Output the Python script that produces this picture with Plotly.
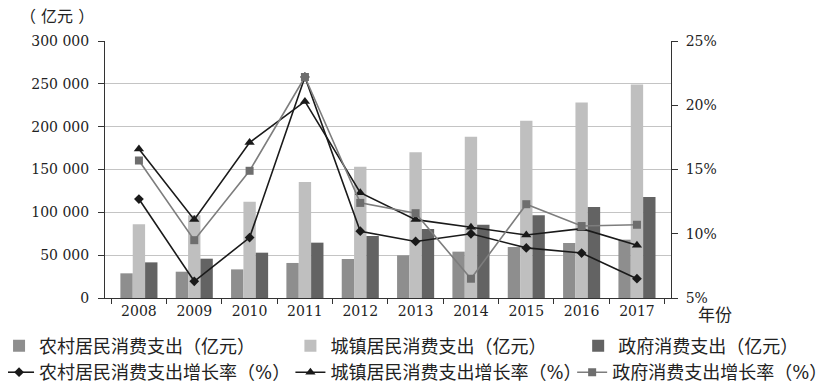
import plotly.graph_objects as go
from plotly.subplots import make_subplots

years = ["2008", "2009", "2010", "2011", "2012", "2013", "2014", "2015", "2016", "2017"]
rural_spend = [28800, 30700, 33400, 40900, 45500, 49800, 54100, 59500, 64200, 68100]
urban_spend = [86000, 96500, 112400, 135400, 153300, 170000, 188300, 207000, 228300, 249300]
gov_spend = [41600, 45900, 52900, 64600, 72400, 80500, 85600, 96500, 106200, 117900]
rural_growth = [12.7, 6.3, 9.7, 22.2, 10.2, 9.4, 10.0, 8.9, 8.5, 6.5]
urban_growth = [16.6, 11.1, 17.1, 20.3, 13.2, 11.1, 10.5, 9.9, 10.4, 9.1]
gov_growth = [15.7, 9.5, 14.9, 22.2, 12.4, 11.6, 6.5, 12.3, 10.6, 10.7]
left_ticks = [0, 50000, 100000, 150000, 200000, 250000, 300000]
left_ticktext = ["0", "50 000", "100 000", "150 000", "200 000", "250 000", "300 000"]
right_ticks = [5, 10, 15, 20, 25]
right_ticktext = ["5%", "10%", "15%", "20%", "25%"]

FONT = "DejaVu Serif, Noto Sans CJK SC, serif"
NUMFONT = dict(size=14, family="DejaVu Serif", color="#222222")

fig = make_subplots(specs=[[{"secondary_y": True}]])

fig.add_trace(go.Bar(x=years, y=rural_spend, name="农村居民消费支出（亿元）",
                     marker=dict(color="#8e8e8e", line=dict(width=0)), legend="legend"), secondary_y=False)
fig.add_trace(go.Bar(x=years, y=urban_spend, name="城镇居民消费支出（亿元）",
                     marker=dict(color="#bfbfbf", line=dict(width=0)), legend="legend2"), secondary_y=False)
fig.add_trace(go.Bar(x=years, y=gov_spend, name="政府消费支出（亿元）",
                     marker=dict(color="#636363", line=dict(width=0)), legend="legend3"), secondary_y=False)

fig.add_trace(go.Scatter(x=years, y=rural_growth, name="农村居民消费支出增长率（%）", mode="lines+markers",
                         line=dict(color="#1a1a1a", width=1.6),
                         marker=dict(symbol="diamond", size=7.5, color="#1a1a1a"), legend="legend4"), secondary_y=True)
fig.add_trace(go.Scatter(x=years, y=urban_growth, name="城镇居民消费支出增长率（%）", mode="lines+markers",
                         line=dict(color="#1a1a1a", width=1.6),
                         marker=dict(symbol="triangle-up", size=9, color="#1a1a1a"), legend="legend5"), secondary_y=True)
fig.add_trace(go.Scatter(x=years, y=gov_growth, name="政府消费支出增长率（%）", mode="lines+markers",
                         line=dict(color="#7d7d7d", width=1.6),
                         marker=dict(symbol="square", size=8, color="#6e6e6e"), legend="legend6"), secondary_y=True)

def leg(x, y):
    return dict(orientation="h", x=x, xanchor="left", y=y, yanchor="middle",
                font=dict(size=18, family=FONT, color="#222222"), bgcolor="rgba(0,0,0,0)")

fig.update_layout(
    width=829, height=382,
    margin=dict(l=97, r=130, t=33, b=92, autoexpand=False),
    paper_bgcolor="white", plot_bgcolor="white",
    font=dict(family=FONT, size=16, color="#222222"),
    barmode="group", bargap=0.33, bargroupgap=0,
    showlegend=True,
    legend=leg(-0.176, -0.187),
    legend2=leg(0.308, -0.187),
    legend3=leg(0.786, -0.187),
    legend4=leg(-0.176, -0.290),
    legend5=leg(0.308, -0.290),
    legend6=leg(0.776, -0.290),
)

fig.update_xaxes(type="category", showline=True, linecolor="#333333", linewidth=1,
                 ticks="outside", tickson="boundaries", ticklen=5, tickcolor="#333333",
                 showgrid=False, tickfont=NUMFONT)
fig.update_yaxes(range=[0, 300000], tickvals=left_ticks, ticktext=left_ticktext,
                 showline=True, linecolor="#333333", linewidth=1, ticks="outside", ticklen=6,
                 tickcolor="#333333", showgrid=True, gridcolor="#c4c4c4", gridwidth=1,
                 zeroline=False, tickfont=NUMFONT, ticklabelstandoff=6, secondary_y=False)
fig.update_yaxes(range=[5, 25], tickvals=right_ticks, ticktext=right_ticktext,
                 showline=True, linecolor="#333333", linewidth=1, ticks="outside", ticklen=6,
                 tickcolor="#333333", showgrid=False, zeroline=False,
                 tickfont=NUMFONT, ticklabelstandoff=5, secondary_y=True)

fig.add_annotation(text="（ 亿元 ）", xref="paper", yref="paper", x=-0.08, y=1.0, yshift=25,
                   xanchor="center", yanchor="middle", showarrow=False,
                   font=dict(size=16, family=FONT, color="#222222"))
fig.add_annotation(text="年份", xref="paper", yref="paper", x=0.982, y=0, yshift=-17,
                   xanchor="left", yanchor="middle", showarrow=False,
                   font=dict(size=17, family=FONT, color="#222222"))

fig.write_html("out.html")
